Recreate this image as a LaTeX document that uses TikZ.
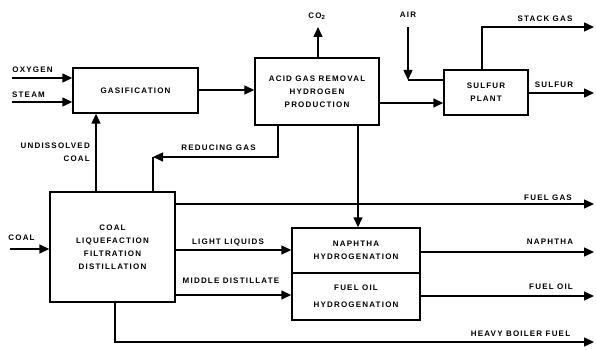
\documentclass[tikz,border=0pt]{standalone}
\usepackage{fontspec}
\newfontfamily\lbl{Liberation Sans}[LetterSpace=15]
\usetikzlibrary{arrows.meta}
\begin{document}
\begin{tikzpicture}[x=1pt,y=-1pt,
  every node/.style={font=\lbl\bfseries\fontsize{8}{13}\selectfont, inner sep=0pt},
  blk/.style={draw, line width=1.4pt, align=center},
  lab/.style={anchor=center},
  flow/.style={line width=1.4pt},
  arr/.style={flow, -{Triangle[length=10pt,width=9pt]}}]
\useasboundingbox (0,0) rectangle (596,350);
% boxes
\node[blk, minimum width=125pt, minimum height=45pt] (gas) at (135.5,90.5) {GASIFICATION};
\node[blk, minimum width=124pt, minimum height=67pt] (acid) at (317,91.5) {ACID GAS REMOVAL\\HYDROGEN\\PRODUCTION};
\node[blk, minimum width=84pt, minimum height=45pt] (sulf) at (486,92.5) {SULFUR\\PLANT};
\node[blk, minimum width=125pt, minimum height=110pt] (liq) at (112.5,247) {COAL\\LIQUEFACTION\\FILTRATION\\DISTILLATION};
\node[blk, minimum width=128pt, minimum height=45pt] (naph) at (356,250.5) {NAPHTHA\\HYDROGENATION};
\node[blk, minimum width=128pt, minimum height=47pt] (oil) at (356,296.5) {FUEL OIL\\[4pt]HYDROGENATION};
% free ends
\coordinate (oxin) at (12,78);
\coordinate (stin) at (12,102);
\coordinate (co2) at (318,27);
\coordinate (airtop) at (408,27);
\coordinate (airc) at (408,80);
\coordinate (stack) at (594,27);
\coordinate (sulout) at (594,93);
\coordinate (redc) at (153,157);
\coordinate (coalin) at (10,249);
\coordinate (fgas) at (594,204);
\coordinate (naout) at (594,252);
\coordinate (foout) at (594,296);
\coordinate (hbf) at (594,342);
% connectors
\draw[arr] (oxin) -- (oxin -| gas.west);
\draw[arr] (stin) -- (stin -| gas.west);
\draw[arr] (gas.east |- 0,90) -- (acid.west |- 0,90);
\draw[arr] (acid.east |- 0,103) -- (sulf.west |- 0,103);
\draw[arr] (co2 |- acid.north) -- (co2);
\draw[arr] (airtop) -- (airc);
\draw[flow] (airc) -- (airc -| sulf.west);
\draw[arr] (sulf.north -| 482,0) |- (stack);
\draw[arr] (sulf.east |- sulout) -- (sulout);
\draw[arr] (liq.north -| 96,0) -- (gas.south -| 96,0);
\draw[arr] (acid.south -| 278,0) |- (redc);
\draw[flow] (redc) -- (redc |- liq.north);
\draw[arr] (acid.south -| 358,0) -- (naph.north -| 358,0);
\draw[arr] (coalin) -- (coalin -| liq.west);
\draw[arr] (liq.east |- fgas) -- (fgas);
\draw[arr] (liq.east |- 0,250) -- (naph.west |- 0,250);
\draw[arr] (liq.east |- 0,295) -- (oil.west |- 0,295);
\draw[arr] (naph.east |- naout) -- (naout);
\draw[arr] (oil.east |- foout) -- (foout);
\draw[arr] (liq.south -| 115,0) |- (hbf);
% labels
\node[lab] (lox) at (32.5,69.5) {OXYGEN};
\node[lab] (lst) at (28.5,94.5) {STEAM};
\node[lab] (lco2) at (317,16) {CO\textsubscript{2}};
\node[lab] (lair) at (408,15) {AIR};
\node[lab] (lstack) at (545,18.5) {STACK GAS};
\node[lab] (lsul) at (554,84.5) {SULFUR};
\node[anchor=east, align=right] (lund) at (90,152.5) {UNDISSOLVED\\COAL};
\node[lab] (lred) at (218.5,148) {REDUCING GAS};
\node[lab] (lcoal) at (21.5,238) {COAL};
\node[lab] (lll) at (228,242) {LIGHT LIQUIDS};
\node[lab] (lmd) at (231,281) {MIDDLE DISTILLATE};
\node[lab] (lfg) at (548,198) {FUEL GAS};
\node[lab] (lna) at (550,242) {NAPHTHA};
\node[lab] (lfo) at (551,287) {FUEL OIL};
\node[lab] (lhb) at (520.5,334) {HEAVY BOILER FUEL};
\end{tikzpicture}
\end{document}
